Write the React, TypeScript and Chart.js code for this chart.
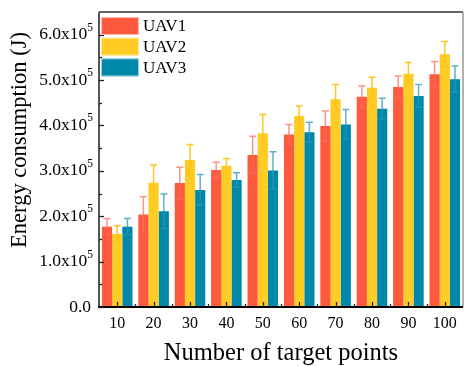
import React, { useEffect, useRef } from "react";
import { Chart, registerables } from "chart.js";

Chart.register(...registerables);

const categories = ["10", "20", "30", "40", "50", "60", "70", "80", "90", "100"];
const seriesNames = ["UAV1", "UAV2", "UAV3"];
const uav1 = [177000, 204000, 273000, 302000, 335000, 380000, 399000, 463000, 485000, 513000];
const uav2 = [161000, 274000, 324000, 311000, 383000, 421000, 458000, 483000, 514000, 557000];
const uav3 = [177000, 211000, 258000, 280000, 301000, 385000, 402000, 437000, 465000, 502000];
const uav1Err = [18000, 39000, 35000, 17000, 41000, 22000, 33000, 24000, 24000, 28000];
const uav2Err = [18000, 39000, 34000, 16000, 41000, 22000, 32000, 23000, 25000, 28000];
const uav3Err = [18000, 38000, 34000, 16000, 41000, 22000, 33000, 23000, 25000, 29000];
const yTickValues = [0, 100000, 200000, 300000, 400000, 500000, 600000];
const yTickMantissas = ["0.0", "1.0", "2.0", "3.0", "4.0", "5.0", "6.0"];
const yMinorValues = [50000, 150000, 250000, 350000, 450000, 550000];
const xTitle = "Number of target points";
const yTitle = "Energy consumption (J)";

const colors = ["#FF5A3E", "#FFCB25", "#0088AA"];
const errColors = ["rgba(255,110,90,0.75)", "rgba(255,196,20,0.95)", "rgba(40,150,185,0.75)"];
const FONT = "'Liberation Serif', 'Times New Roman', serif";

const decorPlugin = {
  id: "decor",
  afterDatasetsDraw(chart: any) {
    const ctx = chart.ctx;
    const { left, right, top, bottom } = chart.chartArea;
    const xs = chart.scales.x;
    const ys = chart.scales.y;
    const errs = [uav1Err, uav2Err, uav3Err];
    ctx.save();
    // error bars
    chart.data.datasets.forEach((ds: any, di: number) => {
      const meta = chart.getDatasetMeta(di);
      meta.data.forEach((bar: any, i: number) => {
        const v = ds.data[i];
        const e = errs[di][i];
        const cx = bar.x;
        const yt = ys.getPixelForValue(v + e);
        const yb = ys.getPixelForValue(v - e);
        ctx.strokeStyle = errColors[di];
        ctx.lineWidth = 1.5;
        ctx.beginPath();
        ctx.moveTo(cx, yt);
        ctx.lineTo(cx, yb);
        ctx.moveTo(cx - 3.5, yt);
        ctx.lineTo(cx + 3.5, yt);
        ctx.moveTo(cx - 3.5, yb);
        ctx.lineTo(cx + 3.5, yb);
        ctx.stroke();
      });
    });

    // frame
    ctx.lineWidth = 1.3;
    ctx.strokeStyle = "#333";
    ctx.beginPath();
    ctx.moveTo(left, top);
    ctx.lineTo(right, top);
    ctx.stroke();
    ctx.strokeStyle = "#999";
    ctx.lineWidth = 1.5;
    ctx.beginPath();
    ctx.moveTo(right, top);
    ctx.lineTo(right, bottom);
    ctx.stroke();
    ctx.strokeStyle = "#555";
    ctx.lineWidth = 2;
    ctx.beginPath();
    ctx.moveTo(left, top);
    ctx.lineTo(left, bottom);
    ctx.stroke();
    ctx.strokeStyle = "#000";
    ctx.lineWidth = 2;
    ctx.beginPath();
    ctx.moveTo(left - 1, bottom);
    ctx.lineTo(right, bottom);
    ctx.stroke();

    // y ticks (inward)
    ctx.strokeStyle = "#222";
    ctx.lineWidth = 1.3;
    yTickValues.forEach((v) => {
      const py = Math.round(ys.getPixelForValue(v)) + 0.5;
      ctx.beginPath();
      ctx.moveTo(left, py);
      ctx.lineTo(left + 5, py);
      ctx.stroke();
    });
    yMinorValues.forEach((v) => {
      const py = Math.round(ys.getPixelForValue(v)) + 0.5;
      ctx.beginPath();
      ctx.moveTo(left, py);
      ctx.lineTo(left + 3, py);
      ctx.stroke();
    });
    // x ticks (inward)
    const step = xs.getPixelForValue(1) - xs.getPixelForValue(0);
    categories.forEach((c, i) => {
      const px = Math.round(xs.getPixelForValue(i)) + 0.5;
      ctx.beginPath();
      ctx.moveTo(px, bottom);
      ctx.lineTo(px, bottom - 5);
      ctx.stroke();
      if (i > 0) {
        const bx = Math.round(xs.getPixelForValue(i) - step / 2) + 0.5;
        ctx.beginPath();
        ctx.moveTo(bx, bottom);
        ctx.lineTo(bx, bottom - 3);
        ctx.stroke();
      }
    });

    // y tick labels
    ctx.fillStyle = "#000";
    ctx.textBaseline = "middle";
    yTickValues.forEach((v, i) => {
      const py = ys.getPixelForValue(v);
      ctx.textAlign = "right";
      if (i === 0) {
        ctx.font = `17.5px ${FONT}`;
        ctx.fillText(yTickMantissas[i], 91, py);
      } else {
        ctx.font = `11.5px ${FONT}`;
        ctx.fillText("5", 93, py - 7);
        const sw = ctx.measureText("5").width;
        ctx.font = `17.5px ${FONT}`;
        ctx.fillText(yTickMantissas[i] + "x10", 93 - sw, py);
      }
    });
    // x tick labels
    ctx.font = `16px ${FONT}`;
    ctx.textAlign = "center";
    categories.forEach((c, i) => {
      ctx.fillText(c, xs.getPixelForValue(i), 324);
    });

    // axis titles
    ctx.font = `24.5px ${FONT}`;
    ctx.textAlign = "center";
    ctx.textBaseline = "middle";
    ctx.fillText(xTitle, (left + right) / 2, 354);
    ctx.save();
    ctx.translate(20, 140);
    ctx.rotate(-Math.PI / 2);
    ctx.font = `22.5px ${FONT}`;
    ctx.fillText(yTitle, 0, 0);
    ctx.restore();

    // legend
    seriesNames.forEach((name, i) => {
      const by = 17 + i * 20.7;
      ctx.fillStyle = colors[i];
      ctx.fillRect(101, by, 38, 18);
      ctx.strokeStyle = "rgba(255,255,255,0.6)";
      ctx.lineWidth = 1;
      ctx.strokeRect(101.5, by + 0.5, 37, 17);
      ctx.fillStyle = "#000";
      ctx.font = `17px ${FONT}`;
      ctx.textAlign = "left";
      ctx.textBaseline = "middle";
      ctx.fillText(name, 143, by + 10);
    });
    ctx.restore();
  },
};

export default function App() {
  const ref = useRef<HTMLCanvasElement | null>(null);
  useEffect(() => {
    if (!ref.current) return;
    const series = [uav1, uav2, uav3];
    const chart = new Chart(ref.current, {
      type: "bar",
      data: {
        labels: categories,
        datasets: seriesNames.map((n, i) => ({
          label: n,
          data: series[i],
          backgroundColor: colors[i],
          borderWidth: 0,
          categoryPercentage: 0.84,
          barPercentage: 1.0,
        })),
      },
      options: {
        animation: false,
        responsive: false,
        devicePixelRatio: 1,
        layout: { padding: { left: 99, right: 1, top: 12, bottom: 59 } },
        plugins: { legend: { display: false }, tooltip: { enabled: false } },
        scales: {
          x: { display: false, offset: true },
          y: { display: false, min: 0, max: 650000 },
        },
      },
      plugins: [decorPlugin],
    });
    return () => chart.destroy();
  }, []);
  return (
    <div style={{ position: "absolute", left: 0, top: 0, width: 464, height: 366, background: "#fff" }}>
      <canvas ref={ref} width={464} height={366} style={{ width: 464, height: 366, display: "block" }} />
    </div>
  );
}
